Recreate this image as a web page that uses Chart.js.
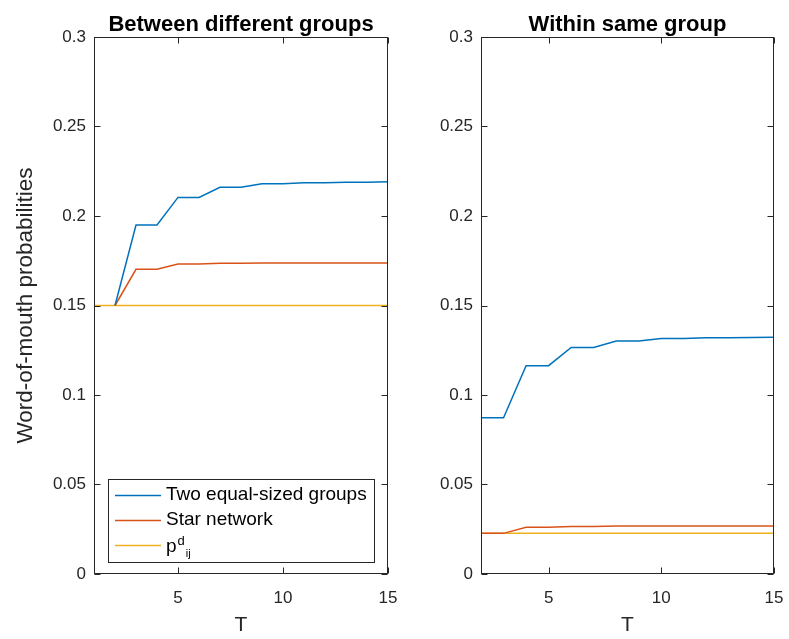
<!DOCTYPE html>
<html>
<head>
<meta charset="utf-8">
<script src="https://cdn.jsdelivr.net/npm/chart.js@4.4.1/dist/chart.umd.min.js"></script>
<style>
    body { margin: 0; background: #fff; }
    #wrap { position: relative; width: 789px; height: 639px; }
    .panel { position: absolute; top: 0; }
</style>
</head>
<body>
<div id="wrap">
    <div class="panel" style="left:0"><canvas id="between" width="400" height="639"></canvas></div>
    <div class="panel" style="left:400px"><canvas id="within" width="389" height="639"></canvas></div>
</div>
<script>
// values
var tAll = [1, 2, 3, 4, 5, 6, 7, 8, 9, 10, 11, 12, 13, 14, 15]
var tFrom2 = [2, 3, 4, 5, 6, 7, 8, 9, 10, 11, 12, 13, 14, 15]

var betweenTwoGroups = [0.150, 0.195, 0.195, 0.2104, 0.2104, 0.216, 0.216, 0.2180, 0.2180, 0.2186, 0.2186, 0.2189, 0.2189, 0.2191]
var betweenStar = [0.150, 0.1702, 0.1702, 0.1732, 0.1732, 0.1736, 0.1736, 0.1737, 0.1737, 0.1737, 0.1737, 0.1737, 0.1737, 0.1737]
var betweenPd = [0.15, 0.15, 0.15, 0.15, 0.15, 0.15, 0.15, 0.15, 0.15, 0.15, 0.15, 0.15, 0.15, 0.15, 0.15]

var withinTwoGroups = [0.0873, 0.0873, 0.1164, 0.1164, 0.1266, 0.1266, 0.1302, 0.1302, 0.1315, 0.1315, 0.1320, 0.1320, 0.1321, 0.1322]
var withinStar = [0.0227, 0.0227, 0.0261, 0.0261, 0.0266, 0.0266, 0.0268, 0.0268, 0.0268, 0.0268, 0.0268, 0.0268, 0.0268, 0.0268]
var withinPd = [0.0227, 0.0227, 0.0227, 0.0227, 0.0227, 0.0227, 0.0227, 0.0227, 0.0227, 0.0227, 0.0227, 0.0227, 0.0227, 0.0227]

var seriesNames = ['Two equal-sized groups', 'Star network', 'p^d_ij']
var xTicks = [5, 10, 15]
var yTicks = [0, 0.05, 0.1, 0.15, 0.2, 0.25, 0.3]

var colors = ['#0072BD', '#D95319', '#EDB120']
var ink = '#262626'
var family = '"Liberation Sans", Arial, sans-serif'

function points(xs, ys) {
    return ys.map(function(y, i) { return { x: xs[i], y: y } })
}

function datasets(sets) {
    return sets.map(function(s, i) {
        return {
            label: seriesNames[i],
            data: points(s[0], s[1]),
            borderColor: colors[i],
            backgroundColor: colors[i],
            borderWidth: 1.5,
            pointRadius: 0,
            tension: 0,
            fill: false
        }
    })
}

// box with inward ticks on all four sides, like the original
var framePlugin = {
    id: 'frame',
    afterDraw(chart) {
        var { ctx, chartArea: a, scales } = chart
        var x = scales.x, y = scales.y
        var L = Math.round(a.left) + 0.5, R = Math.round(a.right) - 0.5
        var T = Math.round(a.top) + 0.5, B = Math.round(a.bottom) - 0.5
        var len = 6
        ctx.save()
        ctx.strokeStyle = ink
        ctx.lineWidth = 1
        ctx.strokeRect(L, T, R - L, B - T)
        ctx.beginPath()
        x.ticks.forEach(function(t) {
            var px = Math.round(x.getPixelForValue(t.value)) + 0.5
            ctx.moveTo(px, B); ctx.lineTo(px, B - len)
            ctx.moveTo(px, T); ctx.lineTo(px, T + len)
        })
        y.ticks.forEach(function(t) {
            var py = Math.round(y.getPixelForValue(t.value)) + 0.5
            ctx.moveTo(L, py); ctx.lineTo(L + len, py)
            ctx.moveTo(R, py); ctx.lineTo(R - len, py)
        })
        ctx.stroke()
        ctx.restore()
    }
}

var panelTitlePlugin = {
    id: 'panelTitle',
    afterDraw(chart, args, opts) {
        var { ctx, chartArea: a } = chart
        ctx.save()
        ctx.font = 'bold 22px ' + family
        ctx.fillStyle = '#000'
        ctx.textAlign = 'center'
        ctx.textBaseline = 'alphabetic'
        ctx.fillText(opts.text, (a.left + a.right) / 2, 31)
        ctx.restore()
    }
}

// legend box in the lower left corner, p^d_ij written with super/subscript
var boxLegendPlugin = {
    id: 'boxLegend',
    afterDraw(chart, args, opts) {
        if (!opts.show) return
        var { ctx, chartArea: a } = chart
        var left = a.left + 14, width = 266, height = 83
        var top = a.bottom - 12 - height
        ctx.save()
        ctx.fillStyle = '#fff'
        ctx.fillRect(left, top, width, height)
        ctx.strokeStyle = ink
        ctx.lineWidth = 1
        ctx.strokeRect(Math.round(left) + 0.5, Math.round(top) + 0.5, width, height)
        chart.data.datasets.forEach(function(ds, i) {
            var cy = top + 16 + i * 25
            ctx.strokeStyle = ds.borderColor
            ctx.lineWidth = 1.5
            ctx.beginPath()
            ctx.moveTo(left + 7, cy + 0.5)
            ctx.lineTo(left + 53, cy + 0.5)
            ctx.stroke()
            ctx.fillStyle = '#000'
            ctx.textAlign = 'left'
            var tx = left + 58
            var m = ds.label.match(/^(\w)\^(\w+)_(\w+)$/)
            if (m) {
                ctx.textBaseline = 'alphabetic'
                ctx.font = '19px ' + family
                ctx.fillText(m[1], tx, cy + 7)
                tx += ctx.measureText(m[1]).width + 1
                ctx.font = '13px ' + family
                ctx.fillText(m[2], tx, cy)
                tx += ctx.measureText(m[2]).width + 1
                ctx.font = '11px ' + family
                ctx.fillText(m[3], tx, cy + 12)
            } else {
                ctx.textBaseline = 'middle'
                ctx.font = '19px ' + family
                ctx.fillText(ds.label, tx, cy)
            }
        })
        ctx.restore()
    }
}

function makeChart(id, cfg) {
    var el = document.getElementById(id)
    return new Chart(el, {
        type: 'line',
        data: { datasets: datasets(cfg.sets) },
        plugins: [framePlugin, panelTitlePlugin, boxLegendPlugin],
        options: {
            responsive: false,
            animation: false,
            events: [],
            layout: { padding: { top: 37, right: cfg.padRight, left: 0, bottom: 0 } },
            plugins: {
                legend: { display: false },
                tooltip: { enabled: false },
                panelTitle: { text: cfg.title },
                boxLegend: { show: cfg.legend }
            },
            scales: {
                x: {
                    type: 'linear',
                    min: cfg.xMin,
                    max: 15,
                    afterBuildTicks: function(s) { s.ticks = xTicks.map(function(v) { return { value: v } }) },
                    afterFit: function(s) { s.height = 65; s.paddingLeft = 0; s.paddingRight = 0 },
                    grid: { display: false, drawTicks: false },
                    border: { display: false },
                    ticks: {
                        autoSkip: false, maxRotation: 0, padding: 14,
                        color: ink, font: { family: family, size: 17 }
                    },
                    title: {
                        display: true, text: 'T', color: ink,
                        font: { family: family, size: 21 },
                        padding: { top: 0, bottom: 1 }
                    }
                },
                y: {
                    type: 'linear',
                    min: 0,
                    max: 0.3,
                    afterBuildTicks: function(s) { s.ticks = yTicks.map(function(v) { return { value: v } }) },
                    afterFit: function(s) { s.width = cfg.yWidth; s.paddingTop = 0; s.paddingBottom = 0 },
                    grid: { display: false, drawTicks: false },
                    border: { display: false },
                    ticks: {
                        autoSkip: false, padding: 8,
                        color: ink, font: { family: family, size: 17 },
                        callback: function(v) { return String(v) }
                    },
                    title: {
                        display: cfg.yTitle, text: 'Word-of-mouth probabilities', color: ink,
                        font: { family: family, size: 22.5 },
                        padding: { top: 12, bottom: 0 }
                    }
                }
            }
        }
    })
}

makeChart('between', {
    title: 'Between different groups',
    sets: [[tFrom2, betweenTwoGroups], [tFrom2, betweenStar], [tAll, betweenPd]],
    xMin: 1, yWidth: 94, padRight: 12, yTitle: true, legend: true
})

makeChart('within', {
    title: 'Within same group',
    sets: [[tFrom2, withinTwoGroups], [tFrom2, withinStar], [tFrom2, withinPd]],
    xMin: 2, yWidth: 81, padRight: 15, yTitle: false, legend: false
})
</script>
</body>
</html>
